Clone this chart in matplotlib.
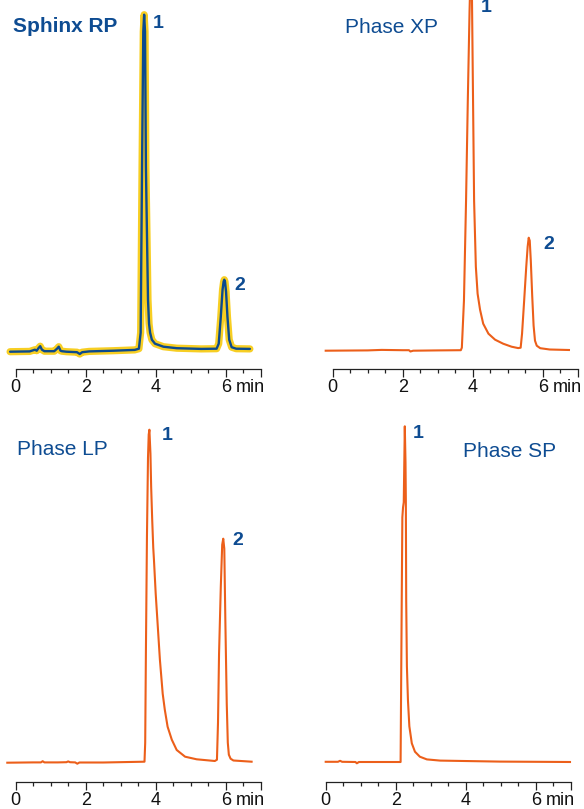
import matplotlib
matplotlib.use("Agg")
import matplotlib.pyplot as plt
from matplotlib.ticker import FixedLocator, FixedFormatter

plt.rcParams['font.family'] = ['Liberation Sans', 'DejaVu Sans']

# ---------------- data (time in min, signal in arbitrary detector units) ----------------
t_sphinx = [-0.16, 0.40, 0.55, 0.60, 0.65, 0.70, 0.75, 0.82, 1.10, 1.18, 1.23, 1.28, 1.32, 1.45,
            1.75, 1.83, 1.90, 2.10, 2.80, 3.40, 3.52, 3.57, 3.61, 3.645, 3.67, 3.695, 3.72, 3.78,
            3.81, 3.84, 3.89, 3.98, 4.22, 4.60, 5.30, 5.74, 5.80, 5.86, 5.91, 5.94, 5.96, 5.98,
            6.01, 6.05, 6.10, 6.17, 6.30, 6.69]
s_sphinx = [0.0, 0.3, 2.0, 1.0, 3.5, 5.5, 2.0, 0.5, 0.5, 3.0, 5.0, 1.0, 0.5, 0.0,
            -0.5, -2.3, -0.5, 0.3, 1.0, 1.8, 3.0, 19, 185, 320, 337, 320, 185, 52,
            28, 19, 12, 8, 5, 3.5, 2.8, 3.0, 8, 35, 62, 70, 72, 70,
            60, 35, 12, 4.5, 3.0, 2.8]

t_xp = [-0.20, 1.00, 1.40, 2.00, 2.18, 2.22, 2.30, 3.00, 3.66, 3.69, 3.75, 3.81, 3.86, 3.91,
        3.95, 3.98, 4.01, 4.04, 4.09, 4.14, 4.21, 4.30, 4.45, 4.64, 4.87, 5.11, 5.30, 5.37,
        5.41, 5.47, 5.53, 5.57, 5.60, 5.63, 5.66, 5.70, 5.74, 5.78, 5.83, 5.93, 6.20, 6.75]
s_xp = [0.0, 0.3, 0.8, 0.5, 0.5, -0.8, 0.0, 0.3, 0.5, 3, 50, 150, 250, 340,
        395, 350, 250, 150, 84, 57, 41, 27, 17, 11, 7, 4, 2.6, 3,
        17, 50, 84, 104, 113, 110, 90, 55, 25, 10, 5, 2.5, 1.2, 0.7]

t_lp = [-0.24, 0.50, 0.72, 0.77, 0.82, 1.20, 1.45, 1.50, 1.55, 1.70, 1.76, 1.82, 2.50, 3.68,
        3.70, 3.72, 3.75, 3.78, 3.80, 3.82, 3.85, 3.87, 3.90, 3.93, 3.95, 4.00, 4.06, 4.12,
        4.20, 4.26, 4.34, 4.46, 4.60, 4.84, 5.17, 5.69, 5.75, 5.78, 5.81, 5.86, 5.90, 5.93,
        5.96, 5.99, 6.03, 6.06, 6.09, 6.14, 6.22, 6.74]
s_lp = [0.0, 0.3, 0.3, 1.5, 0.3, 0.3, 0.5, 1.3, 0.5, 0.3, -1.0, 0.2, 0.2, 1.0,
        20, 110, 226, 305, 328, 333, 309, 276, 243, 215, 203, 169, 136, 103,
        69, 53, 36, 23, 12.7, 6, 3.4, 1.7, 3, 40, 109, 176, 218, 224,
        214, 142, 59, 20, 8, 4, 2.2, 1.0]

t_sp = [0.00, 0.35, 0.41, 0.47, 0.85, 0.89, 0.95, 1.50, 2.14, 2.17, 2.19, 2.21, 2.23, 2.26,
        2.28, 2.29, 2.30, 2.32, 2.35, 2.39, 2.46, 2.55, 2.69, 2.89, 3.27, 4.98, 6.98]
s_sp = [0.5, 0.5, 1.5, 0.5, 0.3, -1.0, 0.3, 0.3, 0.3, 150, 245, 255, 260, 336,
        300, 262, 162, 96, 62, 36, 19, 10.6, 5.6, 2.9, 1.7, 0.7, 0.3]

panel_titles = ["Sphinx RP", "Phase XP", "Phase LP", "Phase SP"]
peak_labels = [["1", "2"], ["1", "2"], ["1", "2"], ["1"]]
major_ticks = [0, 2, 4, 6, 7]
major_labels = ["0", "2", "4", "6", ""]
minor_ticks = [0.5, 1, 1.5, 2.5, 3, 3.5, 4.5, 5, 5.5, 6.5]

# ---------------- styling ----------------
W, H = 584, 809
BLUE = '#0E4C92'
ORANGE = '#EC5F1A'
YELLOW = '#F7CC17'
TRACE_BLUE = '#0B4A8E'
PPM = 35.0  # px per minute
XMIN, XMAX = -0.3, 7.1

fig = plt.figure(figsize=(W / 100, H / 100), dpi=100)


def make_axes(x0_px, spine_px, base_px, top_px):
    left = x0_px + XMIN * PPM
    width = (XMAX - XMIN) * PPM
    ax = fig.add_axes([left / W, 1 - spine_px / H, width / W, (spine_px - top_px) / H])
    ax.set_xlim(XMIN, XMAX)
    ax.set_ylim(base_px - spine_px, base_px - top_px)
    for sp in ['top', 'right', 'left']:
        ax.spines[sp].set_visible(False)
    ax.spines['bottom'].set_bounds(0, 7)
    ax.spines['bottom'].set_linewidth(0.9)
    ax.spines['bottom'].set_color('#222222')
    ax.set_yticks([])
    ax.xaxis.set_major_locator(FixedLocator(major_ticks))
    ax.xaxis.set_major_formatter(FixedFormatter(major_labels))
    ax.xaxis.set_minor_locator(FixedLocator(minor_ticks))
    ax.tick_params(axis='x', which='major', direction='out', length=5.5, width=0.9,
                   color='#222222', labelsize=13, pad=2, labelcolor='#111111')
    ax.tick_params(axis='x', which='minor', direction='out', length=2.6, width=0.9,
                   color='#222222')
    ax.patch.set_alpha(0)
    ax.annotate('min', xy=(6.30, 0), xycoords=('data', 'axes fraction'),
                xytext=(0, -7.5), textcoords='offset points', ha='left', va='top',
                fontsize=13, color='#111111', annotation_clip=False)
    return ax


ax1 = make_axes(15.7, 369, 351.7, 0)
ax2 = make_axes(332.7, 369, 350.7, 0)
ax3 = make_axes(15.7, 781.7, 762.7, 412)
ax4 = make_axes(325.7, 781.7, 762.3, 412)

# traces
ax1.plot(t_sphinx, s_sphinx, color=YELLOW, lw=5.2, solid_joinstyle='round',
         solid_capstyle='round', alpha=0.95, clip_on=False)
ax1.plot(t_sphinx, s_sphinx, color=TRACE_BLUE, lw=1.7, solid_joinstyle='round',
         solid_capstyle='round', clip_on=False)
ax2.plot(t_xp, s_xp, color=ORANGE, lw=1.5, solid_joinstyle='round')
ax3.plot(t_lp, s_lp, color=ORANGE, lw=1.5, solid_joinstyle='round')
ax4.plot(t_sp, s_sp, color=ORANGE, lw=1.5, solid_joinstyle='round')

# peak labels
lab_kw = dict(fontsize=14, fontweight='bold', color=BLUE, ha='left', va='baseline')
ax1.text(3.92, 324, peak_labels[0][0], clip_on=False, **lab_kw)
ax1.text(6.26, 62, peak_labels[0][1], clip_on=False, **lab_kw)
ax2.text(4.22, 339, peak_labels[1][0], clip_on=False, **lab_kw)
ax2.text(6.02, 102, peak_labels[1][1], clip_on=False, **lab_kw)
ax3.text(4.18, 323, peak_labels[2][0], clip_on=False, **lab_kw)
ax3.text(6.18, 218, peak_labels[2][1], clip_on=False, **lab_kw)
ax4.text(2.49, 324, peak_labels[3][0], clip_on=False, **lab_kw)

# panel titles
fig.text(13.3 / W, 1 - 31.7 / H, panel_titles[0], fontsize=15, fontweight='bold',
         color=BLUE, ha='left', va='baseline')
fig.text(345 / W, 1 - 33.3 / H, panel_titles[1], fontsize=15, color=BLUE,
         ha='left', va='baseline')
fig.text(17.3 / W, 1 - 455 / H, panel_titles[2], fontsize=15, color=BLUE,
         ha='left', va='baseline')
fig.text(463 / W, 1 - 457 / H, panel_titles[3], fontsize=15, color=BLUE,
         ha='left', va='baseline')

fig.savefig('out.png', dpi=100)
